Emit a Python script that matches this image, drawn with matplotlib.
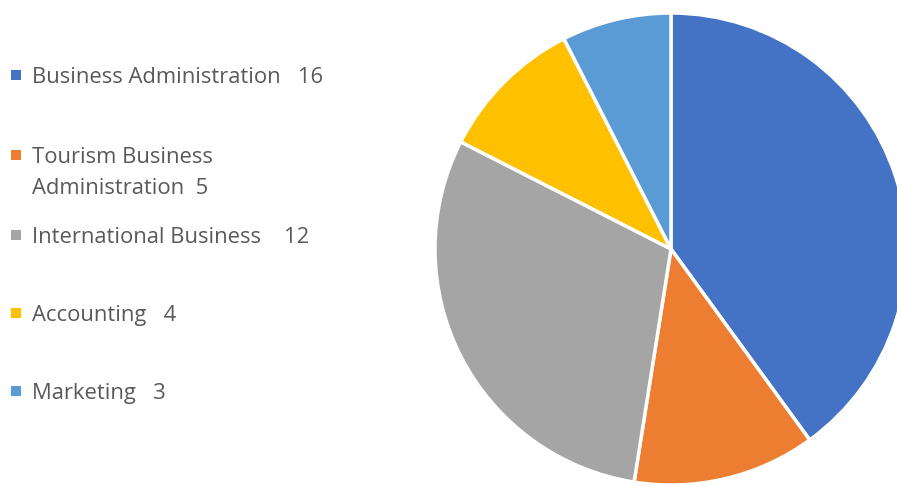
import matplotlib.pyplot as plt

programs = ["Business Administration", "Tourism Business\nAdministration", "International Business", "Accounting", "Marketing"]
counts = [16, 5, 12, 4, 3]
gaps = ["   ", "  ", "    ", "   ", "   "]
colors = ["#4472C4", "#ED7D31", "#A5A5A5", "#FFC000", "#5B9BD5"]

W, H = 897, 486
fig = plt.figure(figsize=(W / 100, H / 100), dpi=100)
ax = fig.add_axes([0, 0, 1, 1])

# pie in pixel units, slices going clockwise from 12 o'clock
ax.pie(counts, colors=colors, startangle=90, counterclock=False,
       center=(671, H - 249), radius=236, frame=True,
       wedgeprops=dict(edgecolor="white", linewidth=2.5))
ax.set_xlim(0, W)
ax.set_ylim(0, H)
ax.set_aspect("equal")
ax.axis("off")

# legend entries on the left
rows = [75, 155, 235, 313, 391]
for y, name, n, g, c in zip(rows, programs, counts, gaps, colors):
    ax.scatter([16], [H - y], marker="s", s=50, color=c, linewidths=0)
    ax.text(32, H - y + 8, f"{name}{g}{n}", fontsize=15.8, color="#595959",
            family="Open Sans", va="top", ha="left", linespacing=1.62)

fig.savefig("out.png", dpi=100)
